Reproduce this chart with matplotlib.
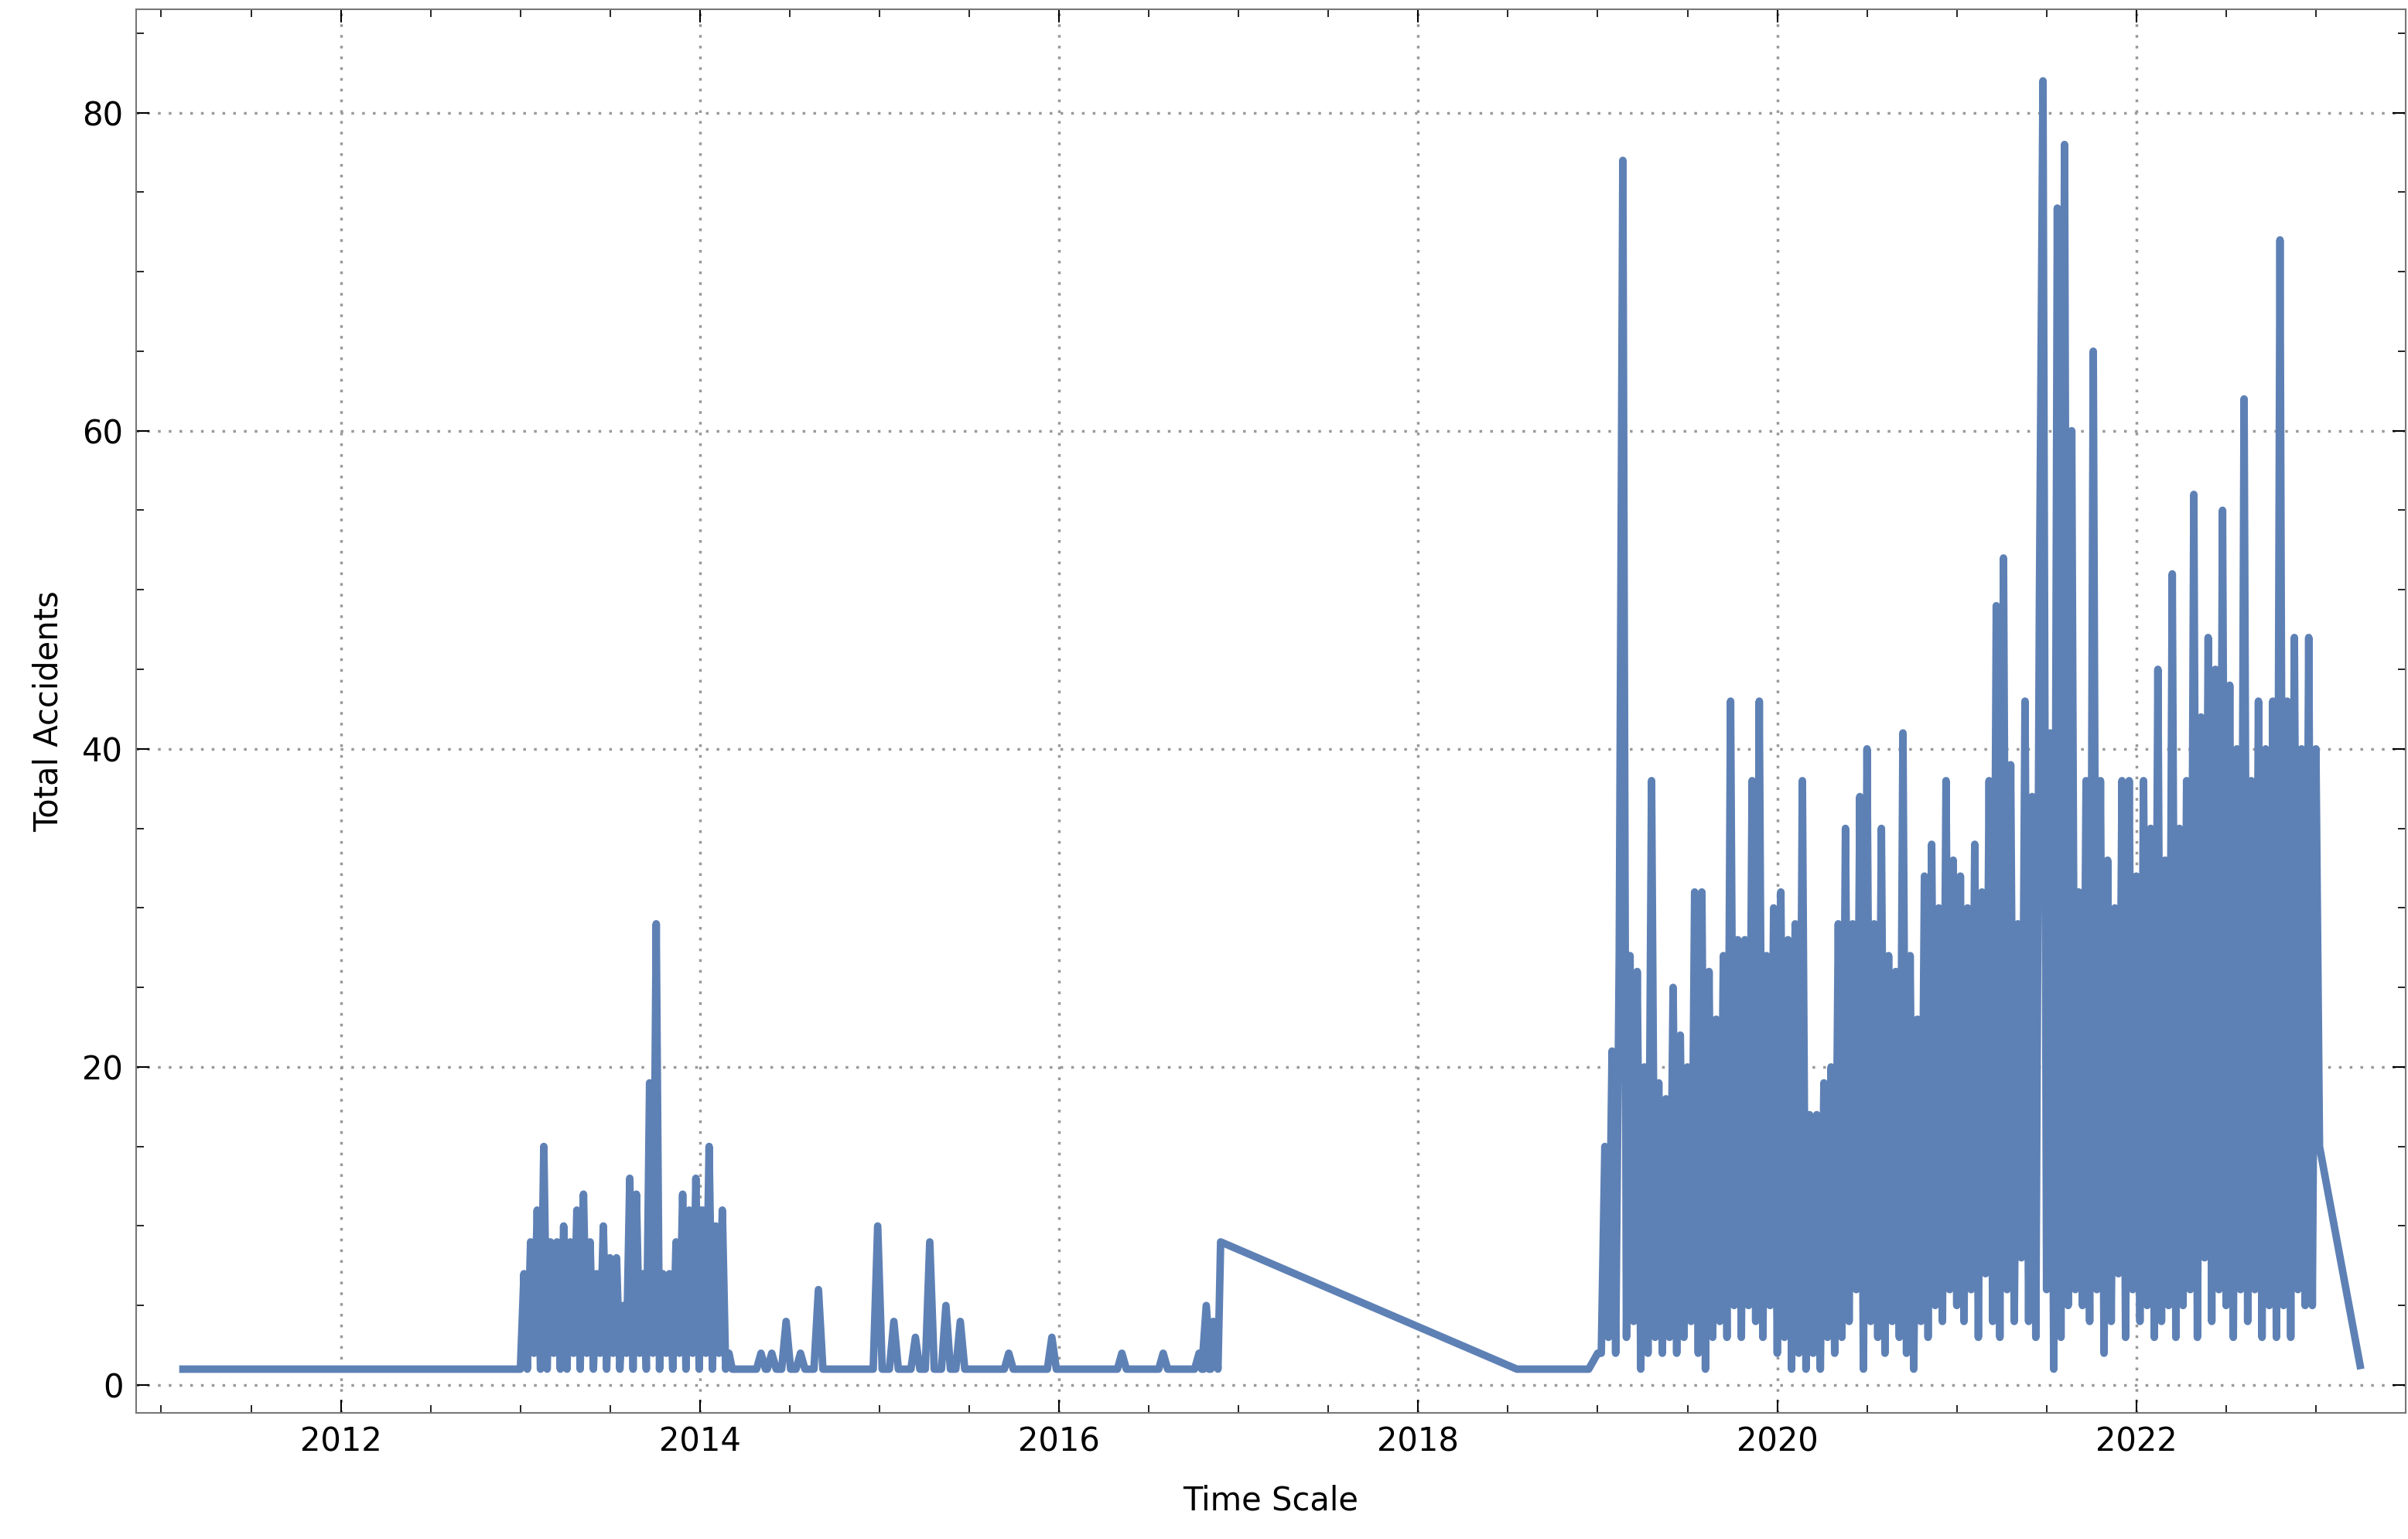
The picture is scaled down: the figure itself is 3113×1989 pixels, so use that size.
import matplotlib
matplotlib.use("Agg")
import matplotlib.pyplot as plt
import numpy as np
from matplotlib.ticker import MultipleLocator

early_x = [2011.1, 2013.0]
early_y = [1, 1]
burst_y = [7,1,9,2,11,1,15,1,9,2,9,1,10,1,9,2,11,1,12,2,9,1,7,2,10,1,8,2,8,1,5,2,13,1,12,2,7,1,19,2,29,1,7,2,7,1,9,2,12,1,11,2,13,1,11,2,15,1,10,2,11,1,2,1]
spike_x = [2014.34,2014.40,2014.48,2014.56,2014.66,2014.99,2015.08,2015.20,2015.28,2015.37,2015.45,2015.72,2015.96,2016.35,2016.58,2016.78,2016.82,2016.86]
spike_y = [2,2,4,2,6,10,4,3,9,5,4,2,3,2,2,2,5,4]
gap_x = [2016.9, 2018.55, 2018.95, 2019.0]
gap_y = [9, 1, 1, 2]
dense_y = [
 2,15,3,21,2,27,77,3,27,4,
 26,1,20,2,38,3,19,2,18,3,
 25,2,22,3,20,4,31,2,31,1,
 26,3,23,4,27,3,43,5,28,3,
 28,5,38,4,43,3,27,5,30,2,
 31,3,28,1,29,2,38,1,17,2,
 17,1,19,3,20,2,29,3,35,4,
 29,6,37,1,40,4,29,3,35,2,
 27,4,26,3,41,2,27,1,23,4,
 32,3,34,5,30,4,38,6,33,5,
 32,4,30,6,34,3,31,7,38,4,
 49,3,52,6,39,4,29,8,43,4,
 37,3,49,82,6,41,1,74,3,78,
 5,60,6,31,5,38,4,65,6,38,
 2,33,4,30,7,38,3,38,6,32,
 4,38,5,35,3,45,4,33,5,51,
 3,35,5,38,6,56,3,42,8,47,
 4,45,6,55,5,44,3,40,6,62,
 4,38,6,43,3,40,5,43,3,72,
 5,43,3,47,6,40,5,47,5,40]
tail_x = [2023.02, 2023.25]
tail_y = [15, 1]

burst_x = list(np.linspace(2013.02, 2014.18, len(burst_y)))
mid_x, mid_y = [2014.2], [1]
for c, h in zip(spike_x, spike_y):
    mid_x += [c - 0.025, c, c + 0.025]
    mid_y += [1, h, 1]
dense_x = list(np.linspace(2019.02, 2023.0, len(dense_y)))
x = early_x + burst_x + mid_x + gap_x + dense_x + tail_x
y = early_y + burst_y + mid_y + gap_y + dense_y + tail_y

fig = plt.figure(figsize=(31.13, 19.89), dpi=100)
ax = fig.add_axes([176/3113, 1-1826/1989, (3110-176)/3113, (1826-12)/1989])
ax.plot(x, y, color='#5E81B5', lw=7, solid_joinstyle='round', solid_capstyle='butt')
ax.set_xlim(2010.86, 2023.5)
ax.set_ylim(-1.75, 86.5)
ax.xaxis.set_major_locator(MultipleLocator(2))
ax.xaxis.set_minor_locator(MultipleLocator(0.5))
ax.yaxis.set_major_locator(MultipleLocator(20))
ax.yaxis.set_minor_locator(MultipleLocator(5))
ax.xaxis.set_major_formatter(plt.FuncFormatter(lambda v, p: f"{int(round(v))}"))
ax.grid(True, which='major', ls=(0, (1, 3)), color='#999999', lw=2.5)
ax.tick_params(which='major', length=12, width=1.5, labelsize=30, direction='in', top=True, right=True, pad=12)
ax.tick_params(which='minor', length=7, width=1.2, direction='in', top=True, right=True)
for s in ax.spines.values():
    s.set_color('#777777'); s.set_linewidth(1.5)
ax.set_xlabel('Time Scale', fontsize=30, labelpad=24)
ax.set_ylabel('Total Accidents', fontsize=30, labelpad=16)
fig.savefig('out.png', dpi=100)
